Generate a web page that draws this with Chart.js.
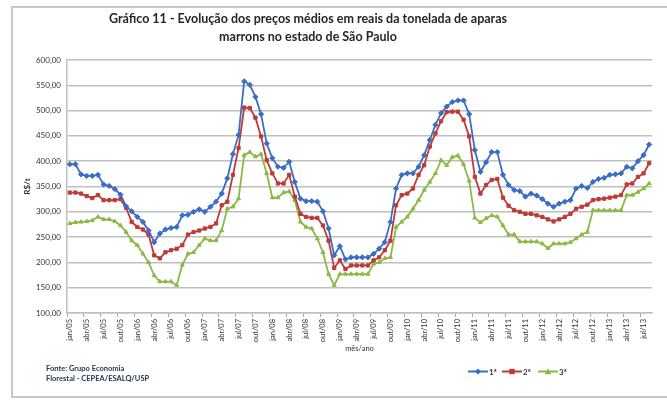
<!DOCTYPE html>
<html>
<head>
<meta charset="utf-8">
<script src="https://cdn.jsdelivr.net/npm/chart.js@4.4.1/dist/chart.umd.min.js"></script>
<style>
  html, body { margin: 0; padding: 0; background: #fff; }
  #wrap { position: relative; width: 667px; height: 403px; overflow: hidden; font-family: Lato, "Open Sans", sans-serif; }
  #frame { position: absolute; left: 11px; top: 6px; width: 670px; height: 392px; border: 2px solid #c8c8c8; box-sizing: border-box; }
  #chart { position: absolute; left: 0; top: 0; }
  #title { position: absolute; left: 0; top: 10px; width: 616px; text-align: center; font-weight: bold; font-size: 12.5px; line-height: 18px; color: #262626; }
  #fonte { position: absolute; left: 46px; top: 364px; font-size: 7.5px; font-weight: bold; line-height: 10px; color: #1f2f4f; }
  #legenda { position: absolute; left: 468px; top: 366px; font-size: 8px; font-weight: bold; color: #333; }
  .item { position: absolute; top: 0; white-space: nowrap; }
  .item svg { vertical-align: middle; }
  .item span { vertical-align: middle; margin-left: 1px; }
</style>
</head>
<body>
<div id="wrap">
  <div id="frame"></div>
  <canvas id="chart" width="667" height="403"></canvas>
  <div id="title">Gráfico 11 - Evolução dos preços médios em reais da tonelada de aparas<br>marrons no estado de São Paulo</div>
  <div id="fonte">Fonte: Grupo Economia<br>Florestal - CEPEA/ESALQ/USP</div>
  <div id="legenda"></div>
</div>
<script>
// meses de jan/05 a ago/13
const nomesMeses = ["jan", "fev", "mar", "abr", "mai", "jun", "jul", "ago", "set", "out", "nov", "dez"];
const anos = ["05", "06", "07", "08", "09", "10", "11", "12", "13"];
const ultimoMes = 8; // ago/13

const meses = [];
anos.forEach((ano, a) => {
  nomesMeses.forEach((m, i) => {
    if (a < anos.length - 1 || i < ultimoMes) meses.push(m + "/" + ano);
  });
});

// preços em R$/t
const primeira = [
  394, 394, 374, 371, 371, 373, 354, 351, 345, 334, 311, 301,
  290, 280, 263, 240, 257, 265, 268, 270, 293, 294, 300, 305,
  300, 310, 320, 336, 366, 414, 452, 558, 551, 527, 493, 435,
  406, 389, 387, 399, 359, 326, 321, 321, 320, 301, 267, 214,
  232, 206, 210, 210, 210, 210, 217, 227, 240, 280, 346, 373,
  376, 376, 389, 412, 442, 472, 495, 508, 517, 520, 520, 493,
  422, 379, 398, 418, 418, 373, 353, 343, 341, 330, 336, 332,
  325, 316, 310, 316, 320, 323, 346, 351, 347, 359, 365, 367,
  373, 374, 376, 389, 386, 400, 412, 433
];
const segunda = [
  338, 338, 336, 331, 327, 333, 323, 323, 323, 325, 308, 280,
  270, 265, 255, 214, 208, 220, 224, 227, 234, 255, 260, 263,
  267, 270, 277, 313, 320, 373, 426, 506, 505, 486, 449, 402,
  376, 356, 356, 373, 330, 296, 290, 288, 288, 273, 243, 189,
  204, 187, 194, 194, 194, 194, 204, 210, 224, 243, 313, 333,
  336, 346, 373, 392, 429, 455, 479, 497, 498, 498, 482, 449,
  369, 336, 353, 363, 365, 328, 312, 303, 300, 296, 296, 293,
  290, 285, 281, 285, 290, 296, 306, 310, 314, 323, 325, 326,
  328, 330, 333, 354, 356, 369, 376, 396
];
const terceira = [
  277, 279, 280, 281, 283, 290, 285, 285, 281, 273, 260, 243,
  234, 217, 200, 174, 162, 162, 162, 155, 195, 217, 220, 234,
  247, 243, 243, 263, 306, 310, 326, 412, 418, 409, 414, 376,
  328, 328, 338, 340, 323, 280, 270, 267, 247, 220, 177, 155,
  177, 177, 177, 177, 177, 177, 197, 200, 208, 210, 270, 280,
  290, 306, 323, 343, 359, 376, 402, 392, 408, 411, 394, 361,
  288, 279, 287, 293, 290, 273, 255, 255, 241, 241, 241, 241,
  237, 228, 237, 237, 237, 240, 247, 255, 260, 303, 303, 303,
  303, 303, 303, 333, 333, 339, 346, 356
];

const cores = ["#3a6ec4", "#be3b37", "#8cb845"];
const estilos = ["rectRot", "rect", "triangle"];
const nomes = ["1ª", "2ª", "3ª"];

Chart.defaults.font.family = 'Lato, "Open Sans", sans-serif';
Chart.defaults.color = "#333";

const formatar = (v) => v.toFixed(2).replace(".", ",");

const serie = (i, dados) => ({
  label: nomes[i],
  data: dados,
  borderColor: cores[i],
  backgroundColor: cores[i],
  borderWidth: 1.8,
  pointStyle: estilos[i],
  pointRadius: i === 0 ? 2.6 : 2.3,
  pointBorderWidth: 1,
  tension: 0,
});

new Chart(document.getElementById("chart"), {
  type: "line",
  data: {
    labels: meses,
    datasets: [serie(0, primeira), serie(1, segunda), serie(2, terceira)],
  },
  options: {
    responsive: false,
    animation: false,
    layout: { padding: { left: 0, right: 15, top: 60, bottom: 45 } },
    plugins: {
      legend: { display: false },
      tooltip: { enabled: false },
    },
    scales: {
      x: {
        offset: true,
        grid: {
          offset: true,
          drawOnChartArea: false,
          tickLength: 4,
          color: (c) => (c.index % 3 === 0 ? "#a6a6a6" : "rgba(0,0,0,0)"),
        },
        border: { color: "#bfbfbf", width: 1.5 },
        ticks: {
          autoSkip: false,
          minRotation: 90,
          maxRotation: 90,
          padding: 2,
          font: { size: 7.5 },
          color: "#333",
          callback: function (v, i) {
            return i % 3 === 0 ? this.getLabelForValue(v) : "";
          },
        },
        title: { display: true, text: "mês/ano", font: { size: 7.5 }, padding: { top: 0, bottom: 4.5 } },
        afterFit: (s) => { s.height = 45; },
      },
      y: {
        min: 100,
        max: 600,
        ticks: { stepSize: 50, padding: 6, font: { size: 8 }, color: "#333", callback: (v) => formatar(v) },
        grid: { color: "#bfbfbf", lineWidth: 1.5, drawTicks: false },
        border: { color: "#bfbfbf", width: 1.5 },
        title: { display: true, text: "R$/t", font: { size: 8, weight: "bold" }, padding: { top: 23, bottom: 0 } },
        afterFit: (s) => { s.width = 67; },
      },
    },
  },
});

// legenda em HTML (linha + marcador)
const legenda = document.getElementById("legenda");
const posicoes = [0, 34, 70];
const marcadores = [
  '<path d="M10 1.5 L13 4.5 L10 7.5 L7 4.5 Z" />',
  '<rect x="7.3" y="1.8" width="5.4" height="5.4" />',
  '<path d="M10 1.3 L13.2 7.2 L6.8 7.2 Z" />',
];
nomes.forEach((n, i) => {
  const div = document.createElement("div");
  div.className = "item";
  div.style.left = posicoes[i] + "px";
  div.innerHTML =
    '<svg width="20" height="9"><line x1="0" y1="4.5" x2="20" y2="4.5" stroke="' + cores[i] +
    '" stroke-width="2"/><g fill="' + cores[i] + '">' + marcadores[i] + "</g></svg><span>" + n + "</span>";
  legenda.appendChild(div);
});
</script>
</body>
</html>
